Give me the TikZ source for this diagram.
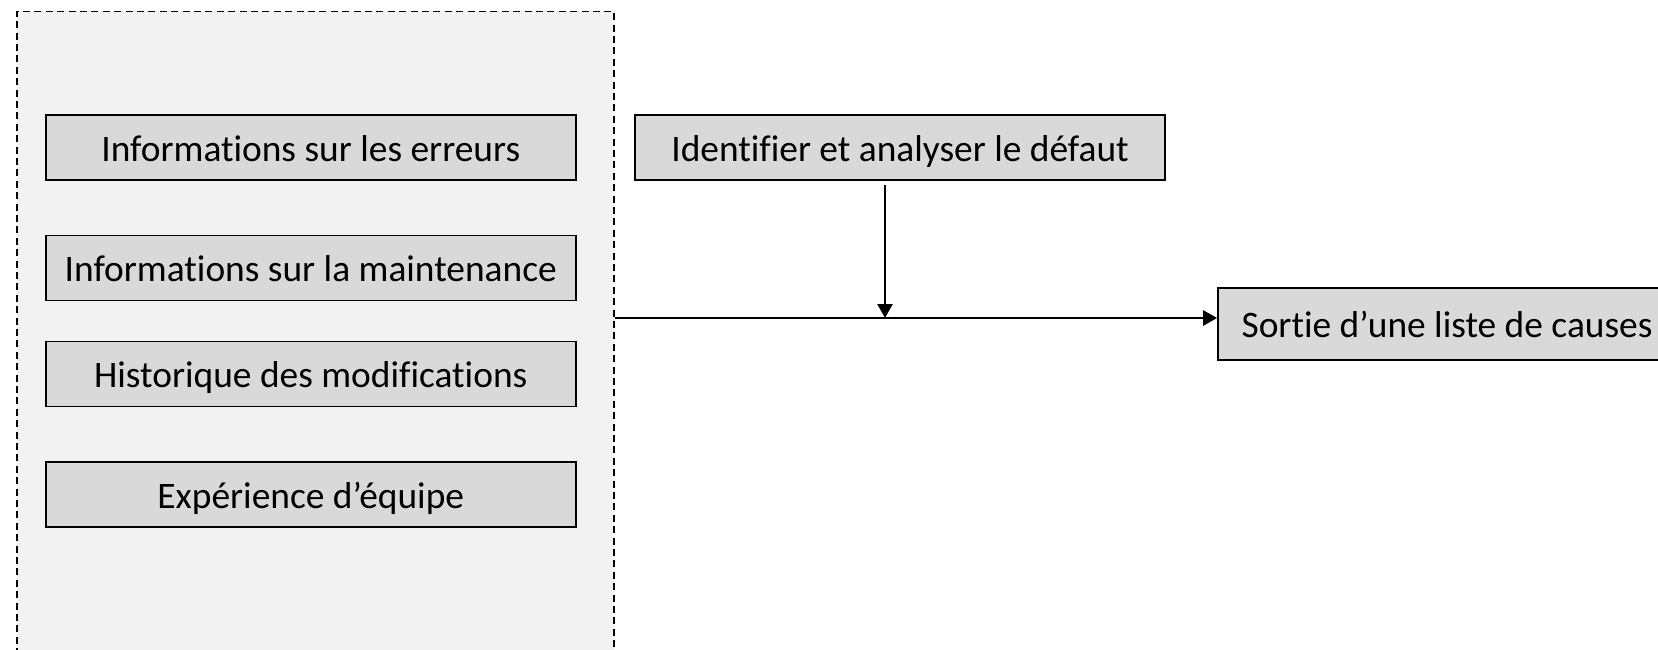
\documentclass[tikz,border=0pt]{standalone}
\usepackage{fontspec}
\setmainfont{Carlito}[Ligatures=NoCommon]
\usetikzlibrary{arrows.meta,positioning}
\definecolor{panelGray}{RGB}{242,242,242}
\definecolor{boxGray}{RGB}{217,217,217}
\tikzset{
  panel/.style={draw=black,fill=panelGray,line width=0.9pt,dash pattern=on 3.5pt off 2.2pt,inner sep=0pt},
  infobox/.style={draw=black,fill=boxGray,line width=0.9pt,minimum width=265pt,minimum height=32.5pt,inner sep=0pt,
    text height=13.5pt,text depth=0pt,font=\fontsize{18.7}{22}\selectfont},
  flow/.style={line width=1.3pt,-{Triangle[length=7pt,width=7.5pt]}}
}
\begin{document}
\begin{tikzpicture}[x=0.5pt,y=-0.5pt]
\useasboundingbox[fill=white] (0,0) rectangle (1658,649);
\clip (0,0) rectangle (1658,649);
% zone des sources d'information
\node[panel,anchor=north west,minimum width=298.5pt,minimum height=350pt] (sources) at (16,10.5) {};
\node[infobox] (erreurs) at (310.75,147.5) {Informations sur les erreurs};
\node[infobox] (maint) at (310.75,268) {Informations sur la maintenance};
\node[infobox] (histo) at (310.75,374) {Historique des modifications};
\node[infobox] (equipe) at (310.75,494.5) {Expérience d’équipe};
% traitement et sortie
\node[infobox] (analyse) at (900,147.5) {Identifier et analyser le défaut};
\node[infobox,minimum width=229pt,minimum height=36pt] (sortie) at (1447,324) {Sortie d’une liste de causes};
\coordinate (join) at (885,318);
\draw[flow] (sources.east |- join) -- (sortie.west |- join);
\draw[flow,shorten <=2pt] (analyse.south -| join) -- (join);
\end{tikzpicture}
\end{document}
